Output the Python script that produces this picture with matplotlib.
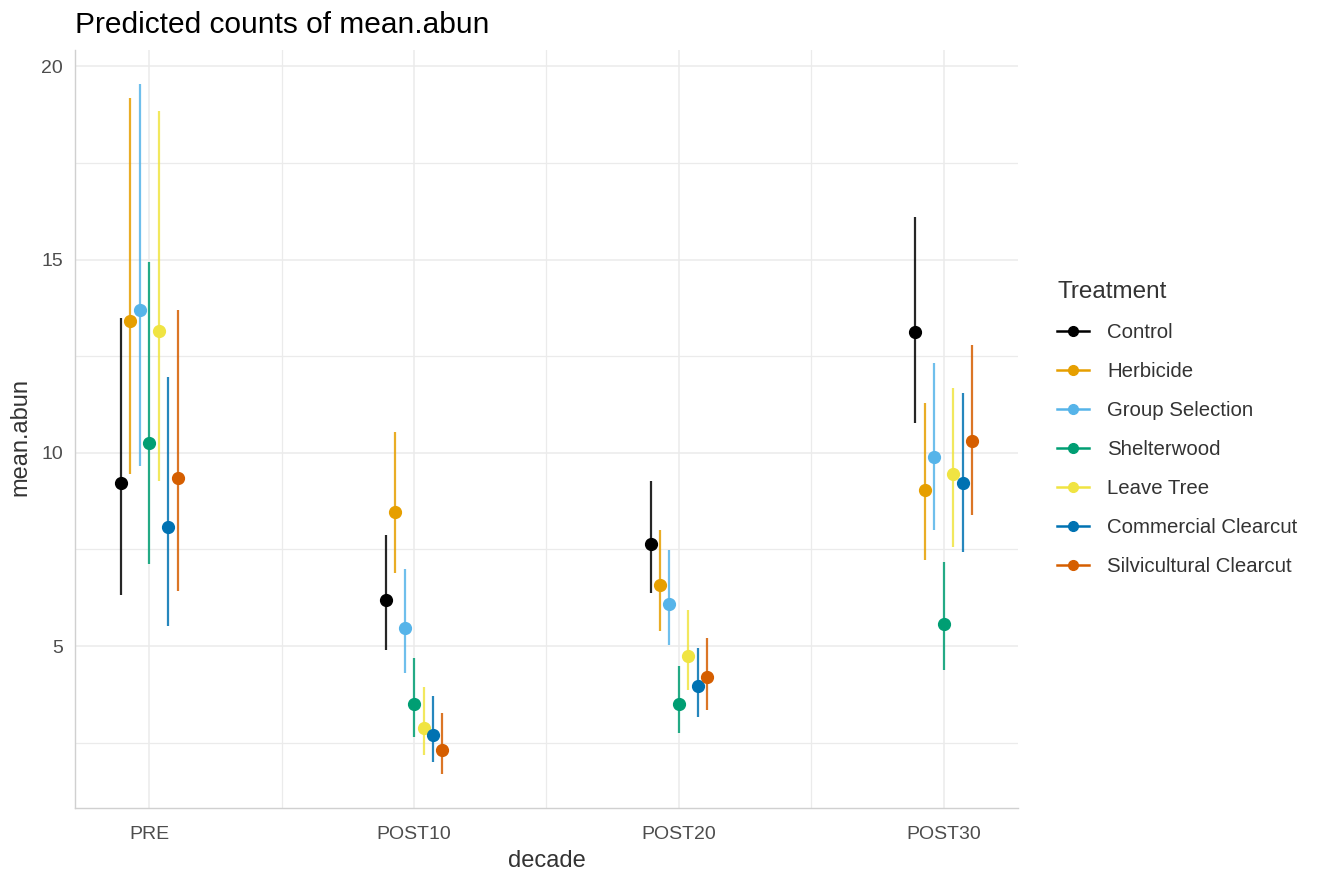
import matplotlib
matplotlib.use("Agg")
import matplotlib.pyplot as plt
from matplotlib.lines import Line2D
import numpy as np

plt.rcParams['font.family'] = ['Liberation Sans', 'DejaVu Sans']

decades = ["PRE", "POST10", "POST20", "POST30"]
treatments = ["Control", "Herbicide", "Group Selection", "Shelterwood",
              "Leave Tree", "Commercial Clearcut", "Silvicultural Clearcut"]
colors = ["#000000", "#E69F00", "#56B4E9", "#009E73", "#F0E442", "#0072B2", "#D55E00"]

# predicted values per treatment (rows) across decades (columns)
predicted = [
    [9.21, 6.18, 7.65, 13.13],
    [13.42, 8.47, 6.57, 9.04],
    [13.70, 5.47, 6.10, 9.90],
    [10.25, 3.49, 3.49, 5.56],
    [13.16, 2.87, 4.74, 9.44],
    [8.08, 2.70, 3.96, 9.22],
    [9.34, 2.31, 4.19, 10.30],
]
conf_low = [
    [6.33, 4.91, 6.37, 10.77],
    [9.46, 6.90, 5.39, 7.22],
    [9.65, 4.29, 5.02, 8.01],
    [7.13, 2.64, 2.74, 4.37],
    [9.28, 2.18, 3.86, 7.55],
    [5.52, 1.99, 3.17, 7.42],
    [6.42, 1.69, 3.34, 8.38],
]
conf_high = [
    [13.49, 7.86, 9.27, 16.09],
    [19.17, 10.53, 8.01, 11.28],
    [19.53, 7.00, 7.48, 12.32],
    [14.93, 4.68, 4.48, 7.17],
    [18.83, 3.94, 5.93, 11.68],
    [11.95, 3.70, 4.96, 11.54],
    [13.70, 3.27, 5.22, 12.80],
]

W, H = 1322, 874
fig = plt.figure(figsize=(W / 100, H / 100), dpi=100)
ax = fig.add_axes([75 / W, 1 - 808 / H, (1018 - 75) / W, (808 - 50) / H])

xbase = np.arange(1, len(decades) + 1)
dodge = 0.25
n = len(treatments)
for i, (t, c) in enumerate(zip(treatments, colors)):
    off = (i - (n - 1) / 2) * dodge / n
    xs = xbase + off
    for x, lo, hi in zip(xs, conf_low[i], conf_high[i]):
        ax.plot([x, x], [lo, hi], color=c, lw=1.6, alpha=0.85,
                solid_capstyle='butt', zorder=2)
    ax.plot(xs, predicted[i], 'o', color=c, ms=8.5, mec=c, zorder=3)

ax.set_xlim(0.72, 4.28)
ax.set_ylim(0.81, 20.42)
ax.set_xticks(xbase)
ax.set_xticklabels(decades)
ax.set_xticks([1.5, 2.5, 3.5], minor=True)
ax.set_yticks([5, 10, 15, 20])
ax.set_yticks([2.5, 7.5, 12.5, 17.5], minor=True)

grid_c = "#EBEBEB"
ax.grid(True, which='major', color=grid_c, lw=1.1, zorder=0)
ax.grid(True, which='minor', color=grid_c, lw=0.9, zorder=0)
ax.set_axisbelow(True)

for s in ['top', 'right']:
    ax.spines[s].set_visible(False)
for s in ['left', 'bottom']:
    ax.spines[s].set_color("#D0D0D0")
    ax.spines[s].set_linewidth(1.0)

ax.tick_params(which='both', length=0, labelsize=14, labelcolor="#4D4D4D")
ax.tick_params(axis='x', pad=13)
ax.tick_params(axis='y', pad=8.5)

ax.set_xlabel("decade", fontsize=17, color="#333333")
ax.xaxis.set_label_coords(0.5, -(850 - 808) / 758)
ax.xaxis.label.set_va('top')
ax.set_ylabel("mean.abun", fontsize=17, color="#333333")
ax.yaxis.set_label_coords((20 - 75) / 943, (808 - 437) / 758)
ax.yaxis.label.set_va('center')

fig.text(75 / W, 1 - 33 / H, "Predicted counts of mean.abun", fontsize=21.5,
         color="#000000", va='baseline', ha='left')

handles = [Line2D([0], [0], color=c, lw=1.8, marker='o', ms=7, mec=c)
           for c in colors]
leg = fig.legend(handles, treatments, title="Treatment",
                 loc='upper left', bbox_to_anchor=(1057 / W, 1 - 281 / H),
                 frameon=False, fontsize=14.7, title_fontsize=17.5,
                 handlelength=1.55, labelspacing=0.98, handletextpad=0.9,
                 borderpad=0, borderaxespad=0)
leg._legend_box.align = "left"
for txt in leg.get_texts():
    txt.set_color("#333333")
leg.get_title().set_color("#333333")

fig.savefig("out.png", dpi=100, facecolor="white")
